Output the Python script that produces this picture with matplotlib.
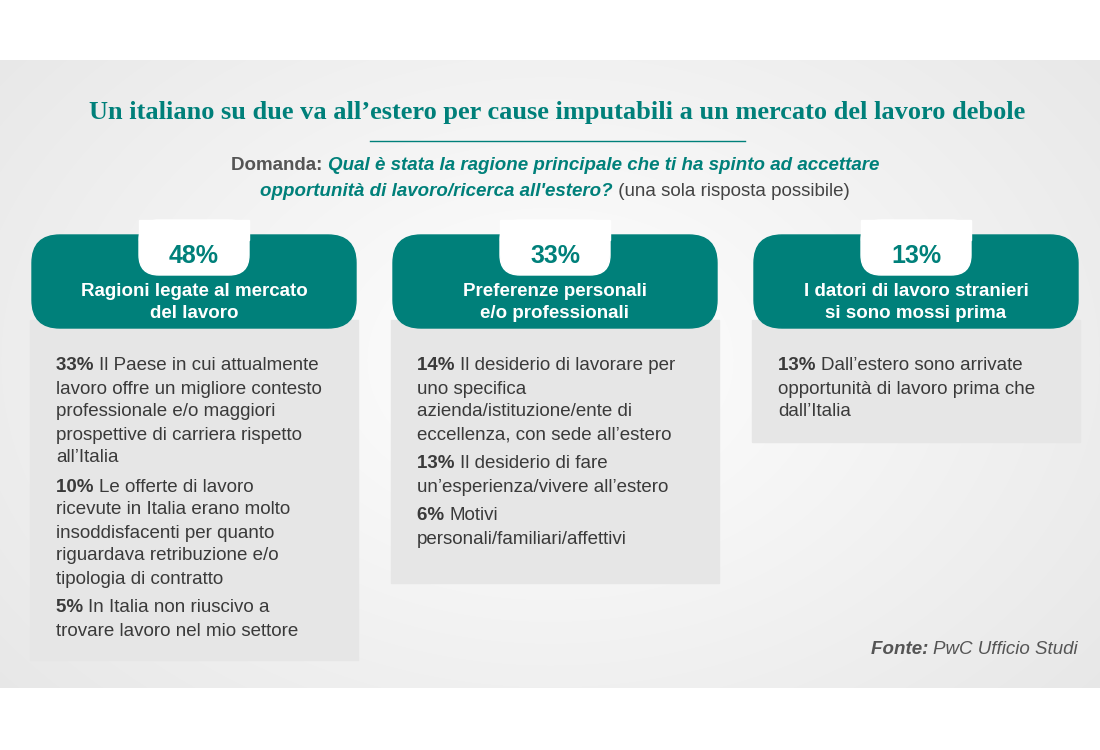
import matplotlib
matplotlib.use("Agg")
import matplotlib.pyplot as plt
import numpy as np
from matplotlib.patches import FancyBboxPatch, Rectangle

title = "Un italiano su due va all\u2019estero per cause imputabili a un mercato del lavoro debole"
percentages = ["48%", "33%", "13%"]
headers = [["Ragioni legate al mercato", "del lavoro"],
           ["Preferenze personali", "e/o professionali"],
           ["I datori di lavoro stranieri", "si sono mossi prima"]]
items = [
    [("33%", ["Il Paese in cui attualmente", "lavoro offre un migliore contesto", "professionale e/o maggiori",
              "prospettive di carriera rispetto", "all\u2019Italia"]),
     ("10%", ["Le offerte di lavoro", "ricevute in Italia erano molto", "insoddisfacenti per quanto",
              "riguardava retribuzione e/o", "tipologia di contratto"]),
     ("5%", ["In Italia non riuscivo a", "trovare lavoro nel mio settore"])],
    [("14%", ["Il desiderio di lavorare per", "uno specifica", "azienda/istituzione/ente di",
              "eccellenza, con sede all\u2019estero"]),
     ("13%", ["Il desiderio di fare", "un\u2019esperienza/vivere all\u2019estero"]),
     ("6%", ["Motivi", "personali/familiari/affettivi"])],
    [("13%", ["Dall\u2019estero sono arrivate", "opportunit\u00e0 di lavoro prima che", "dall\u2019Italia"])],
]
body_bottoms = [660, 583, 442]

TEAL = "#00807A"
DARK = "#3a3a3a"
SANS = "Liberation Sans"

fig = plt.figure(figsize=(11, 7.5), dpi=100)
ax = fig.add_axes([0, 0, 1, 1])
ax.set_xlim(0, 1100); ax.set_ylim(750, 0); ax.axis("off")

# background gradient band
yy, xx = np.mgrid[0:628, 0:1100]
d = np.sqrt(((xx - 550) / 700) ** 2 + ((yy - 300) / 500) ** 2)
g = np.clip(1.0 - 0.09 * d, 0, 1)
ax.imshow(np.dstack([g, g, g]), extent=(0, 1100, 688, 60), zorder=0, aspect="auto")

ax.text(557, 112, title, ha="center", va="center", fontsize=19, fontweight="bold",
        family="Liberation Serif", color=TEAL, zorder=5)
ax.plot([370, 745], [141, 141], color=TEAL, lw=1, zorder=5)

fig.canvas.draw()
r = fig.canvas.get_renderer()

def rich(x, y, parts, ha="left"):
    # parts: list of (text, weight, style, color)
    objs = []
    widths = []
    for t, w, s, c in parts:
        o = ax.text(0, y, t, fontsize=13.5, fontweight=w, style=s, color=c, family=SANS,
                    va="center", ha="left", zorder=6)
        objs.append(o)
        bb = o.get_window_extent(renderer=r)
        widths.append(bb.width)
    total = sum(widths)
    cx = x - total / 2 if ha == "center" else x
    for o, w in zip(objs, widths):
        o.set_x(cx); cx += w

rich(555, 166, [("Domanda: ", "bold", "normal", "#555555"),
                ("Qual \u00e8 stata la ragione principale che ti ha spinto ad accettare", "bold", "italic", TEAL)], "center")
rich(555, 192, [("opportunit\u00e0 di lavoro/ricerca all'estero?", "bold", "italic", TEAL),
                (" (una sola risposta possibile)", "normal", "normal", "#444444")], "center")

lefts = [30, 391, 752]
W = 328
for i, x0 in enumerate(lefts):
    ax.add_patch(Rectangle((x0, 320), W, body_bottoms[i] - 320, color="#E6E6E6", zorder=1))
    ax.add_patch(FancyBboxPatch((x0 + 2, 235), W - 4, 93, boxstyle="round,pad=0,rounding_size=28",
                                color=TEAL, zorder=2, mutation_aspect=1))
    cx = x0 + W / 2
    ax.add_patch(FancyBboxPatch((cx - 55, 220), 110, 55, boxstyle="round,pad=0,rounding_size=20",
                                color="white", zorder=3))
    ax.add_patch(Rectangle((cx - 55, 220), 110, 20, color="white", zorder=3))
    ax.text(cx, 256, percentages[i], ha="center", va="center", fontsize=18, fontweight="bold",
            color=TEAL, family=SANS, zorder=6)
    for j, h in enumerate(headers[i]):
        ax.text(cx, 292 + 22 * j, h, ha="center", va="center", fontsize=13.5, fontweight="bold",
                color="white", family=SANS, zorder=6)
    y = 366
    for pct, lines in items[i]:
        for k, ln in enumerate(lines):
            if k == 0:
                rich(x0 + 26, y, [(pct + " ", "bold", "normal", DARK), (ln, "normal", "normal", DARK)])
            else:
                ax.text(x0 + 26, y, ln, fontsize=13.5, color=DARK, family=SANS, va="center", zorder=6)
            y += 23
        y += 6

rich(1078, 649, [("Fonte: ", "bold", "italic", "#555555"), ("PwC Ufficio Studi", "normal", "italic", "#555555")])
# right align fonte
t = [o for o in ax.texts if o.get_text() in ("Fonte: ", "PwC Ufficio Studi")]
fig.canvas.draw()
tot = sum(o.get_window_extent(renderer=r).width for o in t)
shift = tot
for o in t:
    o.set_x(o.get_position()[0] - shift)

fig.savefig("out.png", dpi=100)
